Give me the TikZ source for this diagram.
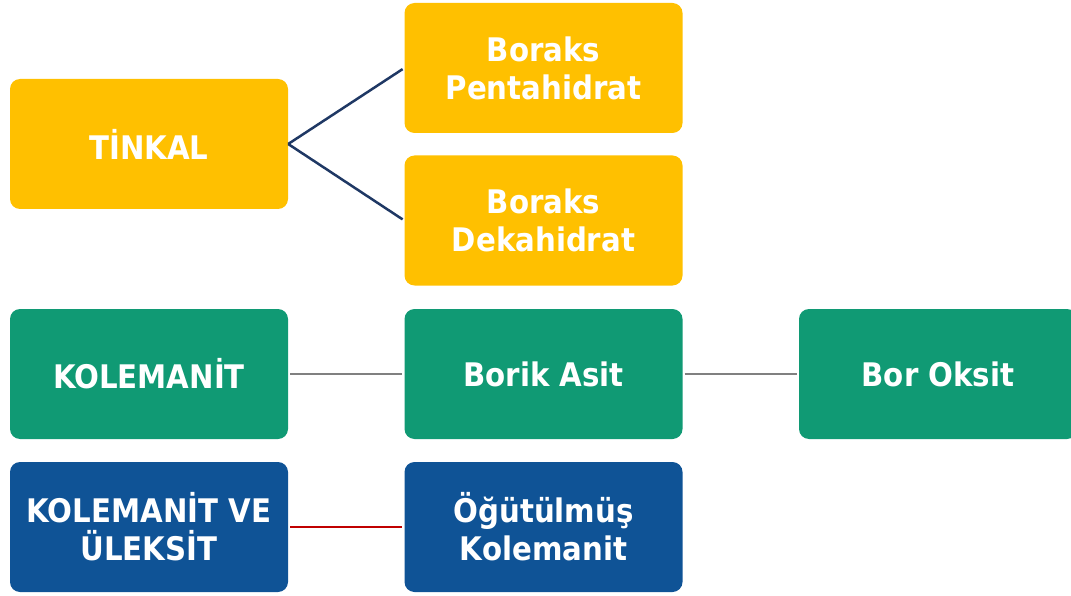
\documentclass[tikz,border=0pt]{standalone}
\usepackage{fontspec}
\setmainfont{DejaVu Sans Condensed}
\usepackage{xcolor}
\definecolor{tinkalgold}{HTML}{FFC000}
\definecolor{colegreen}{HTML}{109A74}
\definecolor{ulexblue}{HTML}{0F5396}
\definecolor{linknavy}{HTML}{1F3864}
\definecolor{linkgray}{HTML}{808080}
\definecolor{linkred}{HTML}{C00000}

\begin{document}
\begin{tikzpicture}[x=1pt, y=-1pt,
	mineral/.style={rounded corners=10pt, minimum width=278pt, minimum height=130pt, inner sep=0pt,
		text=white, align=center, font=\fontsize{32.5}{38}\selectfont\bfseries},
	link/.style={line width=2.5pt, shorten <=2pt, shorten >=2pt}]
	\useasboundingbox (0,0) rectangle (1071,596);
	\clip (0,0) rectangle (1071,596);
	% tinkal row
	\node[mineral, fill=tinkalgold] (tinkal) at (149,144) {TİNKAL};
	\node[mineral, fill=tinkalgold] (penta) at (543.5,68) {Boraks\\Pentahidrat};
	\node[mineral, fill=tinkalgold] (deka) at (543.5,220.5) {Boraks\\Dekahidrat};
	% kolemanit row
	\node[mineral, fill=colegreen] (kole) at (149,374) {KOLEMANİT};
	\node[mineral, fill=colegreen] (borik) at (543.5,374) {Borik Asit};
	\node[mineral, fill=colegreen] (oksit) at (938,374) {Bor Oksit};
	% kolemanit ve uleksit row
	\node[mineral, fill=ulexblue] (ulex) at (149,527) {KOLEMANİT VE\\ÜLEKSİT};
	\node[mineral, fill=ulexblue] (ogut) at (543.5,527) {Öğütülmüş\\Kolemanit};
	\draw[link, color=linknavy, shorten <=0pt] (tinkal.east) -- (penta.west);
	\draw[link, color=linknavy, shorten <=0pt] (tinkal.east) -- (deka.west);
	\draw[link, color=linkgray] (kole) -- (borik);
	\draw[link, color=linkgray] (borik) -- (oksit);
	\draw[link, color=linkred] (ulex) -- (ogut);
\end{tikzpicture}
\end{document}
